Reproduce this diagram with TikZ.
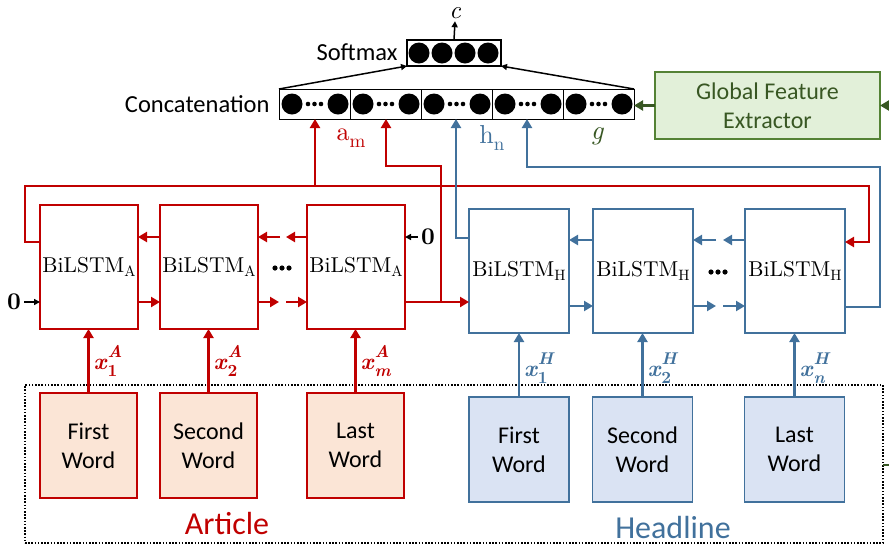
\documentclass[tikz,border=0pt]{standalone}
\usepackage{fontspec}
\setmainfont{lmroman10-regular.otf}[BoldFont=lmroman10-bold.otf, ItalicFont=lmroman10-italic.otf, BoldItalicFont=lmroman10-bolditalic.otf]
\usetikzlibrary{arrows.meta,calc}
\newfontfamily\calibri{Carlito}
\definecolor{cred}{RGB}{192,0,0}
\definecolor{cblue}{RGB}{65,113,156}
\definecolor{cgreen}{RGB}{56,87,35}
\definecolor{gfill}{RGB}{226,240,217}
\definecolor{gborder}{RGB}{84,130,53}
\definecolor{afill}{RGB}{251,229,214}
\definecolor{hfill}{RGB}{218,227,243}
\newcommand\lsub[1]{\raisebox{-0.22em}{\fontsize{15}{15}\selectfont #1}}
\newcommand\xlbl[2]{\textbf{\textit{x}}\rlap{\raisebox{0.5em}{\fontsize{17}{17}\selectfont\bfseries\itshape #2}}\raisebox{-0.32em}{\fontsize{17}{17}\selectfont\bfseries #1}}
\tikzset{
  box/.style={inner sep=0pt, outer sep=0pt, align=center},
  lstmA/.style={box, draw=cred, line width=1.6pt, minimum width=98pt, minimum height=124pt, font=\fontsize{21.5}{24}\selectfont},
  lstmH/.style={box, draw=cblue, line width=1.6pt, minimum width=100pt, minimum height=124pt, font=\fontsize{21.5}{24}\selectfont},
  wordA/.style={box, draw=cred, fill=afill, line width=1.1pt, minimum width=97pt, minimum height=105pt, font=\calibri\fontsize{24}{29}\selectfont},
  wordH/.style={box, draw=cblue, fill=hfill, line width=1.1pt, minimum width=100pt, minimum height=105pt, font=\calibri\fontsize{24}{29}\selectfont},
  seg/.style={box, draw=black, line width=1pt, minimum width=71pt, minimum height=30pt},
  rl/.style={draw=cred, line width=2.4pt},
  bl/.style={draw=cblue, line width=2.2pt},
  gl/.style={draw=cgreen, line width=2.2pt},
  kl/.style={draw=black, line width=1.5pt},
  arr/.style={-{Triangle[length=9pt,width=10pt]}},
  sarr/.style={-{Triangle[length=6pt,width=6pt]}},
  xlab/.style={anchor=west, inner sep=1pt, font=\fontsize{23}{25}\selectfont},
  clab/.style={font=\calibri\fontsize{24.5}{28}\selectfont},
  zlab/.style={font=\bfseries\fontsize{24}{26}\selectfont},
}
\begin{document}
\begin{tikzpicture}[x=1pt,y=-1pt]
\useasboundingbox (0,0) rectangle (889,550);

% input dotted box
\node[box, draw=black, line width=1.6pt, dash pattern=on 1.6pt off 1.6pt, minimum width=858pt, minimum height=158pt] (inputs) at (454,464) {};

% LSTM nodes
\node[lstmA] (A1) at (89,267) {BiLSTM\lsub{A}};
\node[lstmA] (A2) at (209,267) {BiLSTM\lsub{A}};
\node[lstmA] (A3) at (356,267) {BiLSTM\lsub{A}};
\node[lstmH] (H1) at (519,271) {BiLSTM\lsub{H}};
\node[lstmH] (H2) at (643,271) {BiLSTM\lsub{H}};
\node[lstmH] (H3) at (795,271) {BiLSTM\lsub{H}};

% word nodes
\node[wordA] (WA1) at (88.5,445.5) {First\\Word};
\node[wordA] (WA2) at (208.5,445.5) {Second\\Word};
\node[wordA] (WA3) at (355.5,445.5) {Last\\Word};
\node[wordH] (WH1) at (519,449.5) {First\\Word};
\node[wordH] (WH2) at (642.5,449.5) {Second\\Word};
\node[wordH] (WH3) at (794.5,449.5) {Last\\Word};

\node[font=\calibri\fontsize{32}{34}\selectfont, text=cred, anchor=base] (art) at (227,534) {Article};
\node[font=\calibri\fontsize{32}{34}\selectfont, text=cblue, anchor=base] (head) at (673,538) {Headline};

% concatenation
\foreach \i in {1,...,5}{
  \node[seg] (s\i) at ({279+71*\i-35.5},104) {};
  \fill ({279+71*(\i-1)+13},104) circle (10.5pt);
  \fill ({279+71*(\i-1)+59},104) circle (10.5pt);
  \foreach \d in {29,35.5,42} \fill ({279+71*(\i-1)+\d},104) circle (2.3pt);
}
\node[box, draw=black, line width=1pt, minimum width=355pt, minimum height=30pt] (concat) at (456.5,104) {};
\node[clab, anchor=east] (concatlab) at (273,104) {Concatenation};

% softmax
\node[box, draw=black, line width=1.2pt, minimum width=94pt, minimum height=26pt] (sm) at (454,53) {};
\foreach \xx in {419,442,465,488} \fill (\xx,53) circle (10.5pt);
\node[clab, anchor=east] (smlab) at (401,52) {Softmax};
\node[font=\itshape\fontsize{25}{25}\selectfont, anchor=base, inner sep=0pt, text height=0.45em, text depth=0pt] (c) at (455,18) {c};
\draw[kl,sarr] (sm.north) -- ([yshift=-3]c.south);
\draw[kl,sarr] (concat.north west) -- (sm.south west);
\draw[kl,sarr] (concat.north east) -- (sm.south east);

% global feature extractor
\node[box, draw=gborder, fill=gfill, line width=1.2pt, minimum width=225pt, minimum height=67pt, text=cgreen, font=\calibri\fontsize{24}{29}\selectfont] (gfe) at (767.5,105.5) {Global Feature\\Extractor};
\draw[gl,arr] (gfe.west) -- (gfe.west -| concat.east);
\coordinate (gin) at (889,105.5);
\draw[gl,arr] (gin) -- (gfe.east);
\coordinate (gout) at (889,465);
\draw[gl] (gout) -- (gout -| inputs.east);

% labels on concat inputs
\node[text=cred, font=\fontsize{26}{28}\selectfont] (lam) at (351,138) {a\raisebox{-0.25em}{\fontsize{19}{19}\selectfont m}};
\node[text=cblue, font=\fontsize{26}{28}\selectfont] (lhn) at (492,138) {h\raisebox{-0.25em}{\fontsize{19}{19}\selectfont n}};
\node[text=cgreen, font=\itshape\fontsize{27}{28}\selectfont] (lg) at (597,136) {g};

% red feedback / outputs
\draw[rl,arr] ([yshift=25]A1.west) -- ++(-15,0) |- (869,186) |- ([yshift=29]H3.east);
\coordinate (j1) at (315,186);
\draw[rl,arr] (j1) -- (j1 |- concat.south);
\draw[rl,arr] ([yshift=-35]A3.east) -- ([yshift=-35]A3.east -| H1.west);
\coordinate (j2) at (441,302);
\draw[rl,arr] (j2) |- (386,166) -- (386,119);

% blue outputs
\draw[bl,arr] ([yshift=33]H1.west) -| (456,119);
\draw[bl,arr] ([yshift=-36]H3.east) -| (880,167) -| (527,119);

% chains A
\draw[rl,arr] ([yshift=30]A2.west) -- ([yshift=30]A2.west -| A1.east);
\draw[rl,arr] ([yshift=-35]A1.east) -- ([yshift=-35]A1.east -| A2.west);
\draw[rl,arr] ([yshift=30]A3.west) -- ++(-21,0);
\draw[rl,arr] ([yshift=30]A2.east) ++(22,0) -- ([yshift=30]A2.east);
\draw[rl,arr] ([yshift=-35]A2.east) -- ++(21,0);
\draw[rl,arr] ([yshift=-35]A3.west) ++(-21,0) -- ([yshift=-35]A3.west);
\foreach \d in {-7,0,7} \fill (282+\d,268) circle (2.6pt);

% chains H
\draw[bl,arr] ([yshift=31]H2.west) -- ([yshift=31]H2.west -| H1.east);
\draw[bl,arr] ([yshift=-35]H1.east) -- ([yshift=-35]H1.east -| H2.west);
\draw[bl,arr] ([yshift=31]H3.west) -- ++(-22,0);
\draw[bl,arr] ([yshift=31]H2.east) ++(23,0) -- ([yshift=31]H2.east);
\draw[bl,arr] ([yshift=-35]H2.east) -- ++(23,0);
\draw[bl,arr] ([yshift=-35]H3.west) ++(-22,0) -- ([yshift=-35]H3.west);
\foreach \d in {-7,0,7} \fill (718+\d,272) circle (2.6pt);

% zeros
\node[zlab] (z1) at (14,302) {0};
\draw[kl,sarr] (z1.east) -- ([yshift=-35]A1.west);
\node[zlab] (z2) at (428,237) {0};
\draw[kl,sarr] (z2.west) -- ([yshift=30]A3.east);

% word inputs
\draw[rl,arr] (WA1.north) -- (WA1.north |- A1.south) node[pos=0.5, xlab, text=cred, xshift=3pt] {\xlbl{1}{A}};
\draw[rl,arr] (WA2.north) -- (WA2.north |- A2.south) node[pos=0.5, xlab, text=cred, xshift=3pt] {\xlbl{2}{A}};
\draw[rl,arr] (WA3.north) -- (WA3.north |- A3.south) node[pos=0.5, xlab, text=cred, xshift=3pt] {\xlbl{\itshape m}{A}};
\draw[bl,arr] (WH1.north) -- (WH1.north |- H1.south) node[pos=0.45, xlab, text=cblue, xshift=3pt] {\xlbl{1}{H}};
\draw[bl,arr] (WH2.north) -- (WH2.north |- H2.south) node[pos=0.45, xlab, text=cblue, xshift=3pt] {\xlbl{2}{H}};
\draw[bl,arr] (WH3.north) -- (WH3.north |- H3.south) node[pos=0.45, xlab, text=cblue, xshift=3pt] {\xlbl{\itshape n}{H}};
\end{tikzpicture}
\end{document}
